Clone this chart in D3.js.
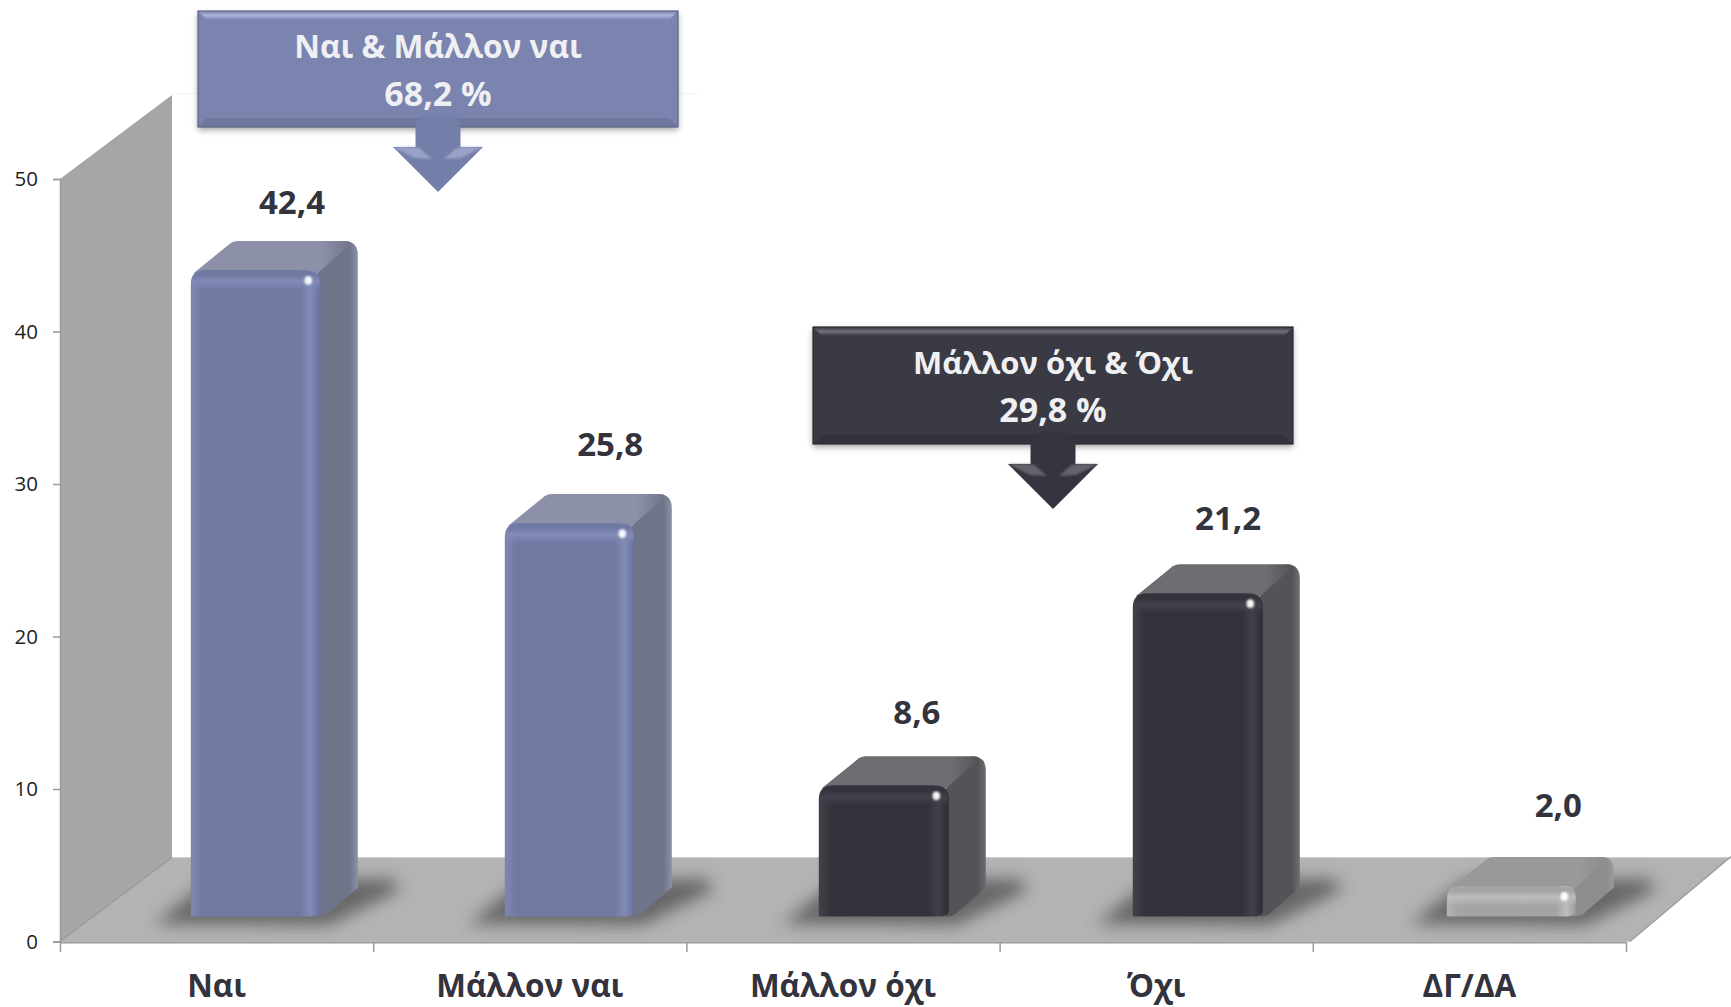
<!DOCTYPE html>
<html><head><meta charset="utf-8">
<script src="https://cdn.jsdelivr.net/npm/d3@7"></script>
<style>html,body{margin:0;background:#fff;overflow:hidden}svg{display:block}text{font-family:"Open Sans",sans-serif}</style>
</head><body><svg id="c" width="1731" height="1007"></svg>
<script>
// ---- data ----
const categories = ["Ναι","Μάλλον ναι","Μάλλον όχι","Όχι","ΔΓ/ΔΑ"];
const values = [42.4,25.8,8.6,21.2,2.0];
const valueLabels = ["42,4","25,8","8,6","21,2","2,0"];
const palettes = ["blue","blue","dark","dark","gray"];
const yTicks = [0,10,20,30,40,50];
const calloutTitles = ["Ναι & Μάλλον ναι","Μάλλον όχι & Όχι"];
const calloutTotals = ["68,2 %","29,8 %"];
const calloutPalettes = ["blue","dark"];

// ---- layout ----
const W=1731,H=1007, X0=60,X1=1626, Y0=941.5,Y50=179, DX=112,DY=-84;
const barDX=37,barDY=-29,barBase=916.5,barW=130,R=14;
const labelDX=[232,237,230.5,228.5,245.5], labelDY=[-38.5,-50,-44,-46,-52];
const calloutBoxes=[[198,11,678,127],[813,327,1293,444]];
const calloutSizes=[31.7,31];
const colors={
 blue:{front:"#6f79a2",side:"#6f7488",top:"#8c91a9",light:"#818bb6",dark:"#656e96",edge:"#7b85ad",box:"#7a84ae",boxHi:"#a9b2d9",boxLo:"#5d6687",arrow:"#737ea9",arrowHi:"#a2abcf"},
 dark:{front:"#33333c",side:"#535358",top:"#6d6d72",light:"#41414b",dark:"#2d2d35",edge:"#3f3f49",box:"#3a3a44",boxHi:"#6f6f78",boxLo:"#2a2a32",arrow:"#35353f",arrowHi:"#6f6f78"},
 gray:{front:"#a4a4a4",side:"#8d8d8d",top:"#999999",light:"#bdbdbd",dark:"#8f8f8f",edge:"#b0b0b0"}
};
const ink="#33333d";

const svg=d3.select("#c");
const defs=svg.append("defs");
const xBand=d3.scaleBand().domain(categories).range([X0,X1]);
const xBar=d3.scaleBand().domain(categories).range([190.8,190.8+314*categories.length]);
const xEdge=d3.scaleLinear().domain([0,categories.length]).range([X0,X1]);
const yAxis=d3.scaleLinear().domain([0,50]).range([Y0,Y50]);
const yBar=d3.scaleLinear().domain([0,50]).range([barBase,barBase-(Y0-Y50)]);

const blur=(id,s)=>defs.append("filter").attr("id",id).attr("x","-40%").attr("y","-40%").attr("width","180%").attr("height","180%").append("feGaussianBlur").attr("stdDeviation",s);
blur("b7",8);blur("b3",3);blur("b1",1.1);

function grad(id,horizontal,stops){
  const g=defs.append("linearGradient").attr("id",id).attr("x1",0).attr("y1",0).attr("x2",horizontal?1:0).attr("y2",horizontal?0:1);
  stops.forEach(([o,c,a])=>g.append("stop").attr("offset",o).attr("stop-color",c).attr("stop-opacity",a==null?1:a));
}
Object.entries(colors).forEach(([k,c])=>{
  grad("f-"+k,true,[[0,c.edge],[.02,c.edge],[.09,c.front],[.84,c.front],[.92,c.light],[.975,c.front],[1,c.dark]]);
  grad("s-"+k,true,[[0,c.side],[.8,c.side],[1,c.top]]);
  grad("tp-"+k,true,[[0,c.top],[.82,c.top],[1,c.side]]);
  grad("rim-"+k,false,[[0,c.front],[.2,c.front],[.55,c.light],[1,c.light,0]]);
  if(c.box){
    grad("bt-"+k,false,[[0,c.box],[.5,c.boxHi],[1,c.box]]);
  }
});

svg.append("line").attr("x1",172).attr("x2",700).attr("y1",93.5).attr("y2",93.5).attr("stroke","#f5f5f5");

// wall + floor
const line=d3.line();
svg.append("path").attr("d",line([[X0,Y0],[X0,Y50],[X0+DX,Y50+DY],[X0+DX,Y0+DY]])+"Z").attr("fill","#a6a6a6");
svg.append("path").attr("d",line([[X0,Y0],[X0+DX,Y0+DY],[W,Y0+DY],[X1+4,Y0]])+"Z").attr("fill","#b3b3b3");
svg.append("line").attr("x1",X0+DX).attr("x2",W).attr("y1",Y0+DY+.5).attr("y2",Y0+DY+.5).attr("stroke","#bdbdbd");
svg.append("line").attr("x1",X0).attr("y1",Y0).attr("x2",X0+DX).attr("y2",Y0+DY).attr("stroke","#9a9a9a").attr("stroke-width",1.2);
svg.append("line").attr("x1",X1+4).attr("y1",Y0).attr("x2",W).attr("y2",Y0+DY-1).attr("stroke","#9a9a9a").attr("stroke-width",1.2);

// shadows
categories.forEach(c=>{
  const x=xBar(c);
  svg.append("path").attr("d",line([[x-36,924],[x+barW+8,925],[x+barW+barDX+42,890],[x+barW+barDX+34,879],[x+20,879]])+"Z")
    .attr("fill","#5a5a5a").attr("opacity",.85).attr("filter","url(#b7)");
});

// bars
const bars=svg.selectAll("g.bar").data(categories).join("g").attr("class","bar");
bars.each(function(c,i){
  const g=d3.select(this), col=palettes[i], x0=xBar(c), x1=x0+barW, y=yBar(values[i]), b=barBase;
  const r=Math.min(R,(b-y)/2.3), bx=x1+barDX, by=y+barDY, bb=b+barDY;
  // side face
  g.append("path").attr("d",`M${x1-4},${y+r*.3}L${bx-r},${by}Q${bx},${by} ${bx},${by+r}L${bx},${bb}L${x1+6},${b-2}Q${x1},${b} ${x1-3},${b}Z`).attr("fill","url(#s-"+col+")");
  // top face
  g.append("path").attr("d",`M${x0+3},${y+3}L${x0+barDX+3},${by+2}Q${x0+barDX+6},${by} ${x0+barDX+10},${by}L${bx-r},${by}Q${bx-4},${by} ${bx-8},${by+4}L${x1-3},${y+3}Z`).attr("fill","url(#tp-"+col+")");
  // front face
  const fr=6;
  g.append("path").attr("d",`M${x0},${b}L${x0},${y+r}Q${x0},${y} ${x0+r},${y}L${x1-r},${y}Q${x1},${y} ${x1},${y+r}L${x1},${b-fr}Q${x1},${b} ${x1-fr-4},${b}Z`).attr("fill","url(#f-"+col+")");
  // top rim glow
  const rimH=Math.min(20,(b-y)*.7);
  g.append("path").attr("d",`M${x0+1},${y+rimH}L${x0+1},${y+r}Q${x0+1},${y+1} ${x0+r},${y+1}L${x1-r},${y+1}Q${x1-1},${y+1} ${x1-1},${y+r}L${x1-1},${y+rimH}Z`).attr("fill","url(#rim-"+col+")");
  // corner highlight
  g.append("ellipse").attr("cx",x1-12.5).attr("cy",y+10.5).attr("rx",3.8).attr("ry",4.4).attr("fill","#fff").attr("opacity",.95).attr("filter","url(#b1)");
});

// value labels
svg.selectAll("text.val").data(categories).join("text").attr("class","val")
  .attr("x",(c,i)=>xBand(c)+labelDX[i])
  .attr("y",(c,i)=>yBar(values[i])+barDY+labelDY[i])
  .attr("dy","0.36em").attr("text-anchor","middle").attr("font-size",33).attr("font-weight",700).attr("fill",ink)
  .text((c,i)=>valueLabels[i]);

// axes
const axL=svg.append("g").attr("transform",`translate(${X0},0)`).call(d3.axisLeft(yAxis).tickValues(yTicks).tickSize(7).tickPadding(15));
axL.select(".domain").attr("stroke","#9a9a9a").attr("stroke-width",1.5);
axL.selectAll("line").attr("stroke","#9a9a9a").attr("stroke-width",1.5);
axL.selectAll("text").attr("font-size",20.5).attr("fill","#1f1f1f").style("font-family",'"Open Sans",sans-serif');

const axB=svg.append("g").attr("transform",`translate(0,${Y0+.5})`).call(d3.axisBottom(xEdge).tickValues(d3.range(categories.length+1)).tickSize(10).tickSizeOuter(0).tickFormat(""));
axB.select(".domain").attr("stroke","#9a9a9a").attr("stroke-width",2);
axB.selectAll("line").attr("stroke","#9a9a9a").attr("stroke-width",1.5);

const axC=svg.append("g").attr("transform",`translate(0,${Y0})`).call(d3.axisBottom(xBand).tickSize(0).tickPadding(33));
axC.select(".domain").remove();
axC.selectAll("text").attr("font-size",31.5).attr("font-weight",700).attr("fill",ink).style("font-family",'"Open Sans",sans-serif');

// callouts
calloutTitles.forEach((t,i)=>{
  const [x0,y0,x1,y1]=calloutBoxes[i], k=calloutPalettes[i], c=colors[k], cx=(x0+x1)/2, g=svg.append("g"), b=9;
  g.append("rect").attr("x",x0).attr("y",y0+3).attr("width",x1-x0).attr("height",y1-y0).attr("fill","#555").attr("opacity",.55).attr("filter","url(#b3)");
  g.append("rect").attr("x",x0).attr("y",y0).attr("width",x1-x0).attr("height",y1-y0).attr("fill",c.box);
  g.append("path").attr("d",line([[x0,y0],[x1,y0],[x1-b,y0+b],[x0+b,y0+b]])+"Z").attr("fill","url(#bt-"+k+")");
  g.append("path").attr("d",line([[x0,y1],[x1,y1],[x1-b,y1-b],[x0+b,y1-b]])+"Z").attr("fill",c.boxLo).attr("opacity",.4);
  g.append("rect").attr("x",x0).attr("y",y0).attr("width",x1-x0).attr("height",y1-y0).attr("fill","none").attr("stroke",c.boxLo).attr("stroke-width",1.2);
  // arrow
  const s=22.5,h=45,top=y1-12,neck=y1+20,tip=y1+65;
  g.append("path").attr("d",`M${cx-s},${neck}L${cx-s},${top+14}Q${cx-s},${top} ${cx-s+14},${top}L${cx+s-14},${top}Q${cx+s},${top} ${cx+s},${top+14}L${cx+s},${neck}L${cx+h},${neck}L${cx},${tip}L${cx-h},${neck}Z`).attr("fill",c.arrow);
  g.append("path").attr("d",line([[cx-h,neck],[cx-s,neck],[cx-s+4,neck+1],[cx-6,neck+12],[cx-h+22,neck+11]])+"Z").attr("fill",c.arrowHi).attr("opacity",.8).attr("filter","url(#b1)");
  g.append("path").attr("d",line([[cx+h,neck],[cx+s,neck],[cx+s-4,neck+1],[cx+6,neck+12],[cx+h-22,neck+11]])+"Z").attr("fill",c.arrowHi).attr("opacity",.8).attr("filter","url(#b1)");
  g.append("text").attr("x",cx).attr("y",y0+36).attr("dy","0.36em").attr("text-anchor","middle").attr("font-size",calloutSizes[i]).attr("font-weight",700).attr("fill","#f0f0f2").text(t);
  g.append("text").attr("x",cx).attr("y",y0+83).attr("dy","0.36em").attr("text-anchor","middle").attr("font-size",34).attr("font-weight",700).attr("fill","#f0f0f2").text(calloutTotals[i]);
});
</script></body></html>
